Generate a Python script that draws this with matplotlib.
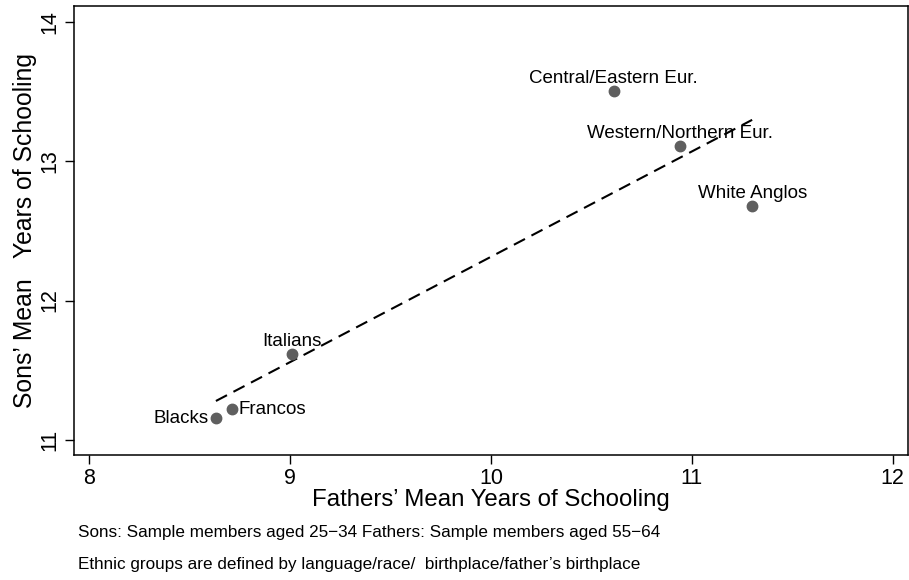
import matplotlib
matplotlib.use("Agg")
from matplotlib import pyplot as plt
import numpy as np

plt.rcParams['font.family'] = ['Liberation Sans', 'DejaVu Sans']

# Ethnic group means
groups = ["Central/Eastern Eur.", "Western/Northern Eur.", "White Anglos",
          "Italians", "Francos", "Blacks"]
fathers = [10.61, 10.94, 11.30, 9.01, 8.71, 8.63]
sons = [13.50, 13.11, 12.68, 11.615, 11.22, 11.155]
label_pos = ["top", "top", "top", "top", "right", "left"]

x_ticks = [8, 9, 10, 11, 12]
y_ticks = [11, 12, 13, 14]

notes = ["Sons: Sample members aged 25\u221234 Fathers: Sample members aged 55\u221264",
         "Ethnic groups are defined by language/race/  birthplace/father\u2019s birthplace"]


def run():
    fig = plt.figure(figsize=(9.09, 5.80), dpi=100)
    ax = fig.add_axes([0.0811, 0.2155, 0.9178, 0.7736])

    x = np.array(fathers)
    y = np.array(sons)

    # fitted line over the observed range
    slope, intercept = np.polyfit(x, y, 1)
    xs = np.array([x.min(), x.max()])
    ax.plot(xs, intercept + slope * xs, color="black", lw=1.5,
            dashes=(6, 3.5), zorder=2)

    ax.plot(x, y, "o", color="#5f5f5f", markersize=7.5, zorder=3)

    for name, xi, yi, pos in zip(groups, x, y, label_pos):
        if pos == "top":
            ax.annotate(name, (xi, yi), xytext=(0, 3), textcoords="offset points",
                        ha="center", va="bottom", fontsize=13.5)
        elif pos == "right":
            ax.annotate(name, (xi, yi), xytext=(5, 0), textcoords="offset points",
                        ha="left", va="center", fontsize=13.5)
        else:
            ax.annotate(name, (xi, yi), xytext=(-5, 0), textcoords="offset points",
                        ha="right", va="center", fontsize=13.5)

    ax.set_xlim(7.922, 12.076)
    ax.set_ylim(10.892, 14.11)
    ax.set_xticks(x_ticks)
    ax.set_yticks(y_ticks)
    ax.tick_params(axis="both", direction="out", length=6.5, width=1,
                   labelsize=15.5, pad=3)
    for lab in ax.get_yticklabels():
        lab.set_rotation(90)
        lab.set_va("center")
    for sp in ax.spines.values():
        sp.set_linewidth(1.1)

    ax.set_xlabel("Fathers\u2019 Mean Years of Schooling", fontsize=17.3, labelpad=0)
    ax.set_ylabel("Sons\u2019 Mean   Years of Schooling", fontsize=17.8, labelpad=2)

    fig.text(78 / 909, 1 - 532 / 580, notes[0], fontsize=12.3, va="center")
    fig.text(78 / 909, 1 - 564 / 580, notes[1], fontsize=12.3, va="center")

    fig.savefig("out.png", dpi=100)


run()
